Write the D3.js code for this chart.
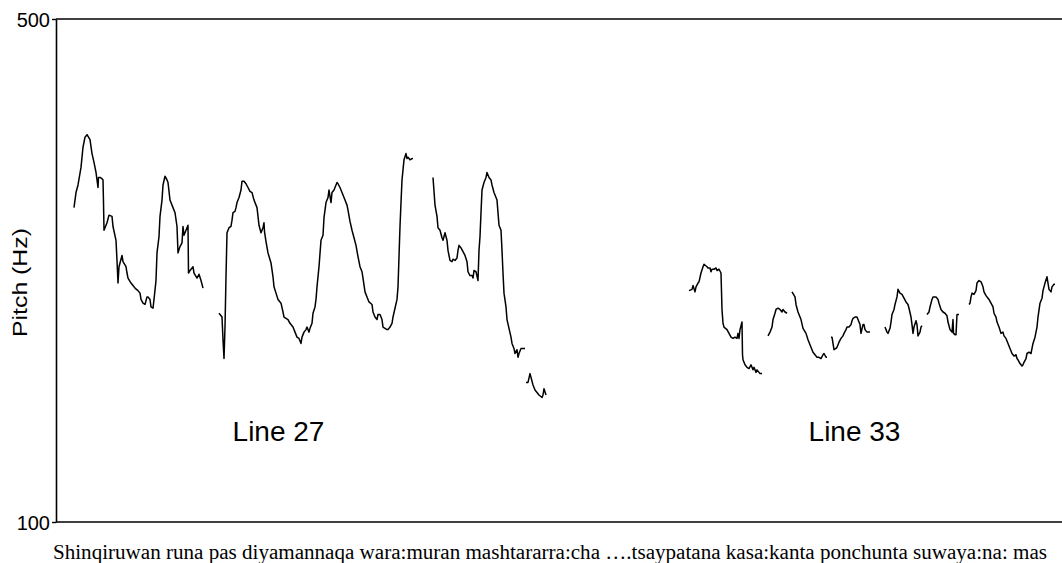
<!DOCTYPE html>
<html>
<head>
<meta charset="utf-8">
<script src="https://cdn.jsdelivr.net/npm/d3@7"></script>
<style>
  body { margin: 0; background: #fff; }
  svg { display: block; }
</style>
</head>
<body>
<div id="chart"></div>
<script>
// pitch track, [time (s), pitch (Hz)], one array per voiced stretch
var line27a = [[0.18,350],[0.20,362],[0.22,368],[0.25,382],[0.27,398],[0.29,406],[0.31,408],[0.34,404],[0.36,393],[0.38,386],[0.40,378],[0.42,366],[0.425,374],[0.44,374],[0.46,373],[0.47,372],[0.475,354],[0.48,332],[0.51,338],[0.53,344],[0.56,343],[0.57,335],[0.60,324],[0.61,308],[0.62,290],[0.63,303],[0.64,306],[0.66,312],[0.67,307],[0.70,303],[0.71,298],[0.72,294],[0.75,290],[0.77,288],[0.79,286],[0.82,284],[0.84,282],[0.85,277],[0.87,274],[0.89,273],[0.91,279],[0.92,279],[0.94,277],[0.95,271],[0.97,270],[0.98,277],[1.00,292],[1.01,314],[1.03,327],[1.04,343],[1.06,356],[1.07,368],[1.09,375],[1.11,372],[1.12,370],[1.14,356],[1.17,350],[1.19,346],[1.21,335],[1.22,314],[1.24,319],[1.26,322],[1.27,335],[1.28,328],[1.30,332],[1.32,336],[1.325,298],[1.34,300],[1.37,303],[1.38,298],[1.41,294],[1.43,297],[1.45,292],[1.47,286]];
var line27b = [[1.63,266],[1.66,263],[1.67,245],[1.68,230],[1.69,255],[1.70,295],[1.71,330],[1.73,334],[1.75,335],[1.76,340],[1.77,346],[1.79,347],[1.80,350],[1.81,354],[1.83,358],[1.85,364],[1.86,371],[1.88,371],[1.90,369],[1.92,366],[1.94,363],[1.96,362],[1.98,356],[2.01,350],[2.02,343],[2.03,336],[2.05,330],[2.07,334],[2.08,338],[2.085,331],[2.10,323],[2.12,314],[2.15,306],[2.17,295],[2.18,287],[2.20,282],[2.22,277],[2.25,274],[2.27,267],[2.28,263],[2.30,262],[2.32,261],[2.34,258],[2.37,255],[2.39,251],[2.41,247],[2.43,246],[2.45,242],[2.46,247],[2.48,251],[2.50,253],[2.51,255],[2.53,251],[2.54,254],[2.56,258],[2.57,266],[2.59,271],[2.60,277],[2.61,287],[2.63,303],[2.65,324],[2.67,328],[2.68,342],[2.70,354],[2.72,358],[2.73,364],[2.75,354],[2.76,362],[2.78,364],[2.79,366],[2.81,370],[2.82,369],[2.84,366],[2.86,362],[2.87,360],[2.89,356],[2.91,352],[2.92,348],[2.94,339],[2.96,332],[2.98,326],[3.00,320],[3.02,311],[3.04,303],[3.06,299],[3.07,294],[3.09,283],[3.11,279],[3.13,275],[3.16,273],[3.17,267],[3.19,263],[3.21,261],[3.22,265],[3.24,265],[3.26,261],[3.27,255],[3.29,254],[3.31,253],[3.32,253],[3.34,255],[3.36,258],[3.37,263],[3.39,270],[3.41,277],[3.42,287],[3.43,311],[3.44,335],[3.45,354],[3.46,372],[3.47,380],[3.48,388],[3.50,393],[3.51,389],[3.52,390],[3.54,388],[3.56,389],[3.57,389]];
var line27c = [[3.77,374],[3.79,352],[3.81,343],[3.82,334],[3.84,332],[3.86,326],[3.87,324],[3.89,330],[3.91,324],[3.92,316],[3.94,308],[3.96,307],[3.97,309],[3.99,308],[4.01,310],[4.02,316],[4.03,320],[4.05,318],[4.07,315],[4.09,312],[4.11,307],[4.12,299],[4.14,296],[4.16,296],[4.17,294],[4.18,300],[4.20,299],[4.22,292],[4.23,316],[4.24,327],[4.25,346],[4.26,364],[4.28,370],[4.30,374],[4.31,378],[4.33,374],[4.35,372],[4.36,368],[4.38,362],[4.40,358],[4.41,356],[4.43,336],[4.45,332],[4.46,316],[4.47,298],[4.48,282],[4.50,271],[4.51,261],[4.53,254],[4.55,247],[4.56,242],[4.58,238],[4.59,234],[4.61,237],[4.62,231],[4.63,234],[4.65,238],[4.67,238],[4.69,238]];
var line27d = [[4.70,211],[4.72,211],[4.74,218],[4.75,215],[4.77,209],[4.79,205],[4.81,203],[4.83,201],[4.86,199],[4.87,201],[4.88,206],[4.90,201]];

var line33a = [[6.33,284],[6.36,285],[6.37,288],[6.39,283],[6.40,287],[6.42,290],[6.43,291],[6.45,298],[6.47,303],[6.48,305],[6.51,303],[6.52,302],[6.54,302],[6.55,299],[6.56,301],[6.58,301],[6.60,302],[6.61,300],[6.63,301],[6.65,298],[6.66,269],[6.67,258],[6.68,255],[6.71,253],[6.73,250],[6.75,247],[6.77,246],[6.79,247],[6.81,246],[6.82,250],[6.83,246],[6.84,253],[6.86,259],[6.865,233],[6.87,229],[6.89,225],[6.91,223],[6.93,222],[6.95,225],[6.97,221],[6.98,223],[7.00,219],[7.01,221],[7.04,218],[7.06,218]];
var line33b = [[7.12,248],[7.14,251],[7.16,255],[7.17,261],[7.19,266],[7.20,269],[7.22,270],[7.24,269],[7.26,267],[7.27,269],[7.29,267],[7.31,266]];
var line33c = [[7.36,283],[7.39,279],[7.40,273],[7.42,267],[7.45,261],[7.47,254],[7.50,250],[7.52,245],[7.55,239],[7.57,235],[7.59,233],[7.61,231],[7.63,231],[7.65,230],[7.67,233],[7.68,234],[7.70,231],[7.71,231]];
var line33d = [[7.75,247],[7.76,247],[7.78,237],[7.80,238],[7.81,239],[7.83,243],[7.85,246],[7.87,248],[7.88,250],[7.90,253],[7.91,255],[7.93,255],[7.95,257],[7.96,260],[7.97,262],[7.99,263],[8.01,263],[8.02,261],[8.04,257],[8.05,250],[8.07,257],[8.08,257],[8.09,253],[8.11,251],[8.12,251],[8.14,251]];
var line33e = [[8.29,255],[8.31,251],[8.32,250],[8.34,254],[8.35,259],[8.36,265],[8.38,269],[8.39,273],[8.41,279],[8.42,285],[8.44,282],[8.46,281],[8.48,278],[8.50,275],[8.52,273],[8.53,270],[8.55,263],[8.56,257],[8.57,250],[8.58,255],[8.60,260],[8.61,257],[8.62,248],[8.64,251],[8.65,255],[8.66,256]];
var line33f = [[8.71,265],[8.73,267],[8.74,271],[8.76,277],[8.77,279],[8.80,279],[8.82,277],[8.83,274],[8.85,269],[8.87,267],[8.89,266],[8.91,264],[8.92,259],[8.94,253],[8.96,251],[8.97,261],[8.975,250],[8.99,249],[9.00,249],[9.01,265],[9.03,265]];
var line33g = [[9.13,273],[9.14,274],[9.15,279],[9.16,282],[9.18,281],[9.20,284],[9.21,290],[9.23,292],[9.25,291],[9.27,287],[9.28,283],[9.30,280],[9.32,278],[9.33,277],[9.35,274],[9.37,271],[9.38,266],[9.40,263],[9.41,259],[9.43,255],[9.45,250],[9.47,251],[9.48,248],[9.50,246],[9.52,242],[9.54,238],[9.56,234],[9.58,232],[9.60,233],[9.61,230],[9.62,229],[9.64,226],[9.66,224],[9.67,225],[9.68,227],[9.70,230],[9.71,234],[9.73,235],[9.75,234],[9.76,238],[9.77,242],[9.79,247],[9.81,255],[9.82,263],[9.84,274],[9.86,278],[9.87,284],[9.89,290],[9.91,295],[9.92,290],[9.93,285],[9.95,283],[9.96,287],[9.98,289],[9.99,289]];

var yTicks = [100, 500];
var labels = ["Line 27", "Line 33"];
var labelTimes = [2.225, 7.985];
var labelPitch = 164.4;
var transcript = "Shinqiruwan runa pas diyamannaqa wara:muran mashtararra:cha \u2026.tsaypatana kasa:kanta ponchunta suwaya:na: mas";

var width = 1062,
    height = 563,
    mLeft = 56, mTop = 19, mBottom = 522;

var svg = d3.select("#chart").append("svg")
    .attr("width", width)
    .attr("height", height);

var x = d3.scaleLinear().domain([0, 10.06]).range([mLeft, width]);
var y = d3.scaleLinear().domain([100, 500]).range([mBottom, mTop]);

// frame: left axis plus top and bottom rules running to the edge
var yAxis = d3.axisLeft(y).tickValues(yTicks).tickSize(4).tickSizeOuter(0).tickPadding(2);
var gy = svg.append("g")
    .attr("transform", "translate(" + mLeft + ",0)")
    .call(yAxis);
gy.select(".domain").attr("stroke", "#000").attr("stroke-width", 1.6);
gy.selectAll(".tick line").attr("stroke", "#000").attr("stroke-width", 1.4);
gy.selectAll(".tick text")
    .attr("font-family", "'Liberation Sans', Arial, sans-serif")
    .attr("font-size", 20)
    .attr("fill", "#000")
    .attr("dy", "0.35em");

svg.selectAll("line.rule")
    .data(yTicks)
    .enter().append("line")
    .attr("class", "rule")
    .attr("x1", mLeft)
    .attr("x2", width)
    .attr("y1", function(d) { return y(d); })
    .attr("y2", function(d) { return y(d); })
    .attr("stroke", "#000")
    .attr("stroke-width", 1.6);

svg.append("text")
    .attr("transform", "translate(27," + ((mTop + mBottom) / 2 + 12) + ") rotate(-90)")
    .attr("text-anchor", "middle")
    .attr("font-family", "'Liberation Sans', Arial, sans-serif")
    .attr("font-size", 20)
    .attr("textLength", 109)
    .attr("lengthAdjust", "spacingAndGlyphs")
    .text("Pitch (Hz)");

var line = d3.line()
    .x(function(d) { return x(d[0]); })
    .y(function(d) { return y(d[1]); });

var segments = [line27a, line27b, line27c, line27d, line33a, line33b, line33c, line33d, line33e, line33f, line33g];

svg.append("g")
    .selectAll("path")
    .data(segments)
    .enter().append("path")
    .attr("d", line)
    .attr("fill", "none")
    .attr("stroke", "#000")
    .attr("stroke-width", 1.5)
    .attr("stroke-linejoin", "round");

svg.selectAll("text.lbl")
    .data(labels)
    .enter().append("text")
    .attr("class", "lbl")
    .attr("x", function(d, i) { return x(labelTimes[i]); })
    .attr("y", y(labelPitch))
    .attr("text-anchor", "middle")
    .attr("font-family", "'Liberation Sans', Arial, sans-serif")
    .attr("font-size", 28)
    .text(function(d) { return d; });

svg.append("text")
    .attr("x", 53)
    .attr("y", 559)
    .attr("font-family", "'Liberation Serif', 'Times New Roman', serif")
    .attr("font-size", 20)
    .attr("textLength", 994)
    .attr("lengthAdjust", "spacingAndGlyphs")
    .text(transcript);
</script>
</body>
</html>
